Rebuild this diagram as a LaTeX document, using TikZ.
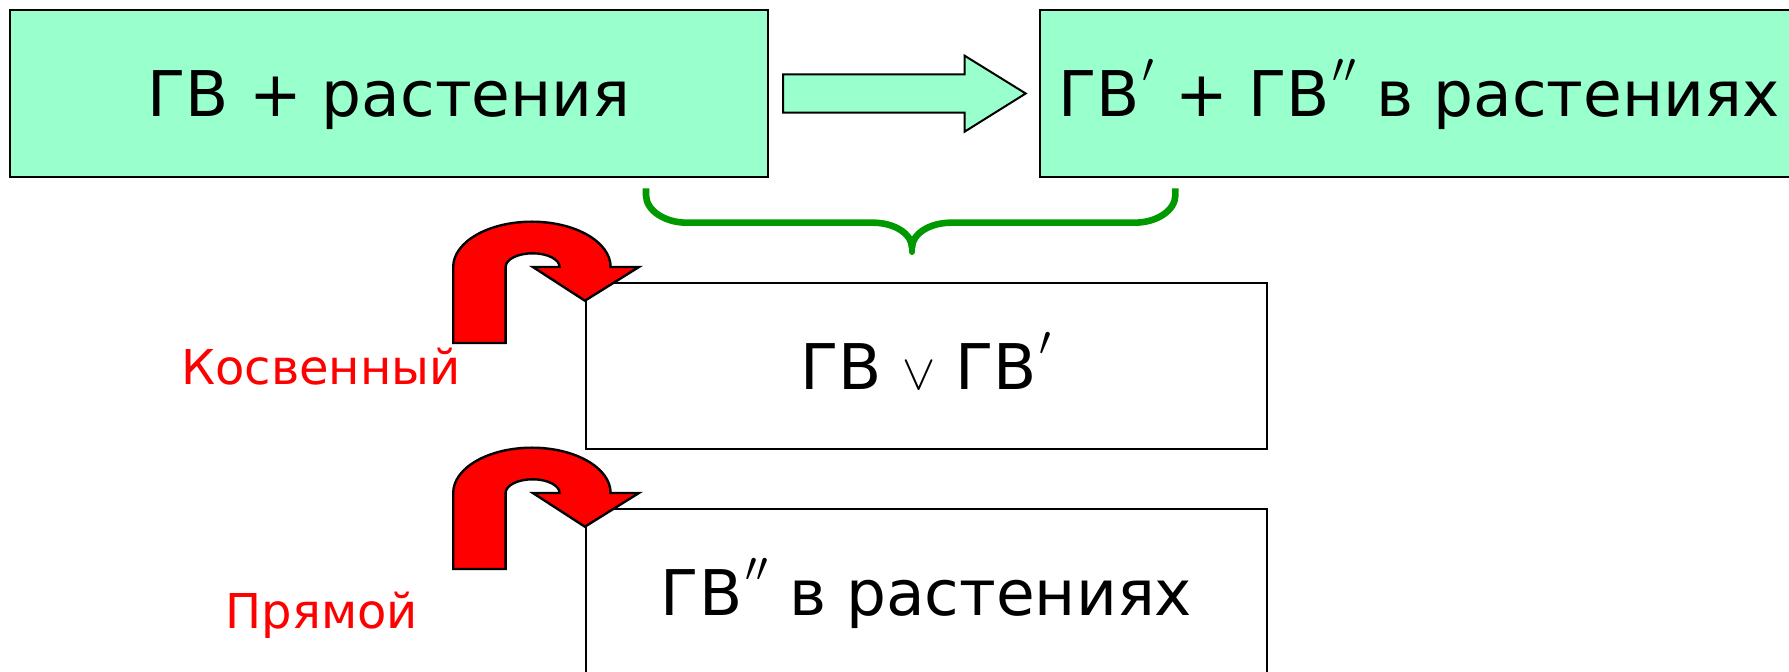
\documentclass[tikz,border=0pt]{standalone}
\usepackage{fontspec}
\setmainfont{DejaVu Sans}
\usetikzlibrary{positioning}
\definecolor{boxgreen}{RGB}{153,255,204}
\definecolor{bracegreen}{RGB}{0,153,0}
\newcommand{\pone}{\kern1.5pt\raisebox{8pt}{$'$}}
\newcommand{\ptwo}{\kern1.5pt\raisebox{8pt}{$''$}}
\newcommand{\alt}{{\fontsize{29}{30}\selectfont$\vee$}}
\tikzset{
	box/.style={draw, line width=1pt, inner sep=0pt, font=\fontsize{31.5}{36}\selectfont, text height=23pt, text depth=0pt},
	result/.style={box, fill=boxgreen, minimum width=379pt, minimum height=83.5pt},
	way/.style={box, fill=white, minimum width=340.5pt, minimum height=83pt},
	lab/.style={text=red, font=\fontsize{24}{28}\selectfont, text height=17.5pt, text depth=0pt, inner sep=0pt},
}

\begin{document}
\begin{tikzpicture}[x=0.5pt, y=-0.5pt]
	\useasboundingbox (0,0) rectangle (1789,672);
	\clip (0,0) rectangle (1789,672);

	\node[result] (src) at (389,93.5) {ГВ + растения};
	\node[result] (res) at (1419,93.5) {ГВ\pone{} + ГВ\ptwo{} в растениях};
	\node[way] (kos) at (926.4,366.3) {ГВ \alt{} ГВ\pone};
	\node[way] (pryam) at (926.4,592.3) {ГВ\ptwo{} в растениях};

	\node[lab] (kosl) at (321,367.5) {Косвенный};
	\node[lab] (pryaml) at (321.7,610.8) {Прямой};

	% block arrow
	\draw[line width=1pt, fill=boxgreen] (783,74.3) -- (964.6,74.3) -- (964.6,55.7) -- (1025.7,93.5)
		-- (964.6,131.7) -- (964.6,112.7) -- (783,112.7) -- cycle;

	% brace
	\coordinate (brl) at (646,188.3);
	\coordinate (brr) at (1175.4,188.3);
	\coordinate (brm) at (912,251.7);
	\draw[bracegreen, line width=3.3pt] (brl) -- (646,195)
		.. controls (646,210.3) and (664.4,222.7) .. (687,222.7) -- (873,222.7)
		.. controls (894.5,222.7) and (912,233.9) .. (912,247.7);
	\draw[bracegreen, line width=3.3pt] (brr) -- (1175.4,195)
		.. controls (1175.4,210.3) and (1157,222.7) .. (1134.4,222.7) -- (951,222.7)
		.. controls (929.5,222.7) and (912,233.9) .. (912,247.7);
	\draw[bracegreen, line width=3.3pt, line cap=round] (912,246) -- (brm);

	% u-turn arrows
	\foreach \b in {kos,pryam}{
		\begin{scope}[shift={(\b.north west)}]
			\draw[fill=red, line width=1.2pt] (-79.3,60.7) -- (-131.7,60.7) -- (-131.7,-15.3)
				.. controls (-131.7,-40.3) and (-96.5,-60.6) .. (-53,-60.6)
				.. controls (-9.5,-60.6) and (25.7,-40.3) .. (25.7,-15.3)
				-- (54,-15.3) -- (0,18.4) -- (-52,-15.3) -- (-25.3,-15.3)
				.. controls (-25.3,-22.9) and (-37.4,-29) .. (-52.3,-29)
				.. controls (-67.2,-29) and (-79.3,-22.9) .. (-79.3,-15.3) -- cycle;
		\end{scope}
	}
\end{tikzpicture}
\end{document}
